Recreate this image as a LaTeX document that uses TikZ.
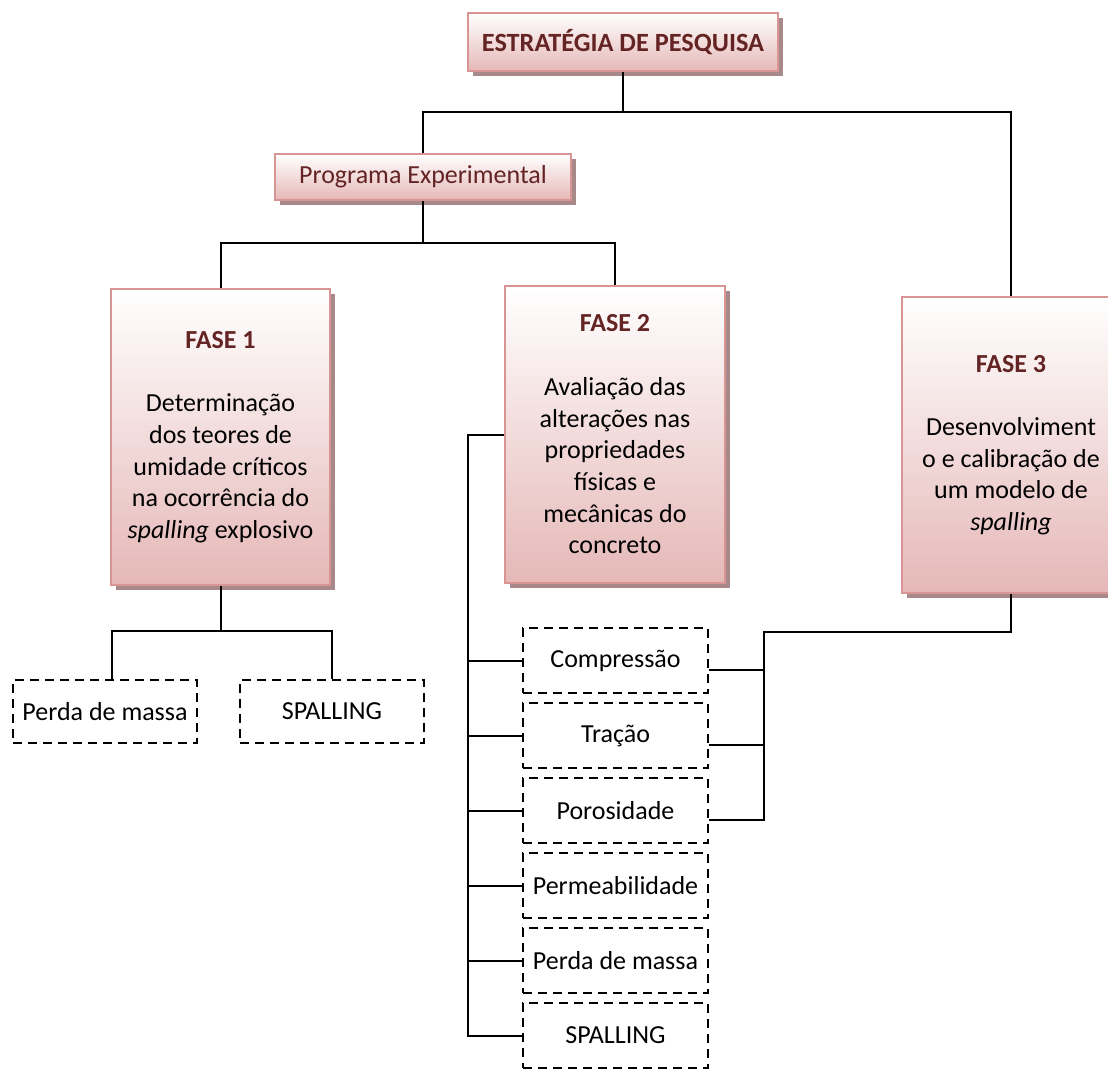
\documentclass[tikz,border=0pt]{standalone}
\usepackage{fontspec}
\setmainfont{Carlito}
\usetikzlibrary{shadows}
\definecolor{titlered}{HTML}{632423}
\definecolor{boxline}{HTML}{D99594}
\definecolor{boxpink}{HTML}{E5B8B7}
\definecolor{shadowcol}{HTML}{A8898A}
\begin{document}
\begin{tikzpicture}[x=1pt,y=-1pt,
  every node/.style={font=\fontsize{26}{31.7}\selectfont, inner sep=0pt},
  pinkbox/.style={draw=boxline, line width=2pt, top color=white, bottom color=boxpink,
    drop shadow={shadow xshift=5pt, shadow yshift=-5pt, fill=shadowcol, opacity=1},
    align=center},
  phasebox/.style={pinkbox, minimum width=219pt, minimum height=296pt},
  dashbox/.style={draw=black, line width=1.8pt, dash pattern=on 9pt off 6pt,
    minimum width=185pt, minimum height=65pt},
  link/.style={line width=2pt, draw=black}
]
\useasboundingbox (0,0) rectangle (1108,1068);
\clip (0,0) rectangle (1108,1068);

% header boxes
\node[pinkbox, minimum width=310pt, minimum height=58pt, text=titlered] (top) at (623,42)
  {\fontsize{26.3}{31.7}\selectfont\bfseries ESTRATÉGIA DE PESQUISA};
\node[pinkbox, minimum width=296pt, minimum height=46pt, text=titlered] (prog) at (423,177)
  {Programa Experimental};

% the three phases
\node[phasebox] (f1) at (220.5,437)
  {\textcolor{titlered}{\bfseries FASE 1}\\[31.7pt]
   Determinação\\ dos teores de\\ umidade críticos\\ na ocorrência do\\ \textit{spalling} explosivo};
\node[phasebox, minimum width=220pt, minimum height=297pt] (f2) at (615,434.5)
  {\textcolor{titlered}{\bfseries FASE 2}\\[31.7pt]
   Avaliação das\\ alterações nas\\ propriedades\\ físicas e\\ mecânicas do\\ concreto};
\node[phasebox, minimum width=218pt] (f3) at (1011,445)
  {\textcolor{titlered}{\bfseries FASE 3}\\[31.7pt]
   Desenvolviment\\ o e calibração de\\ um modelo de\\ \textit{spalling}};

% results of phase 1
\node[dashbox, minimum width=184pt, minimum height=63pt] (pm1) at (105,711.5) {Perda de massa};
\node[dashbox, minimum width=184pt, minimum height=63pt] (sp1) at (332,711.5) {SPALLING};

% tests of phase 2
\node[dashbox] (c2)  at (615.5,660.5) {Compressão};
\node[dashbox] (tr2) at (615.5,735.5) {Tração};
\node[dashbox] (po2) at (615.5,810.5) {Porosidade};
\node[dashbox] (pe2) at (615.5,885.5) {Permeabilidade};
\node[dashbox] (pm2) at (615.5,960.5) {Perda de massa};
\node[dashbox] (sp2) at (615.5,1035.5) {SPALLING};

% tree connectors
\coordinate (b1) at (623,112);
\draw[link] (top.south) -- (b1) -| (prog.north);
\draw[link] (b1) -| (f3.north);

\coordinate (b2) at (423,243);
\draw[link] (prog.south) -- (b2) -| (f1.north);
\draw[link] (b2) -| (f2.north);

\coordinate (b3) at (220.5,631);
\draw[link] (f1.south) -- (b3) -| ([xshift=7pt]pm1.north);
\draw[link] (b3) -| (sp1.north);

\coordinate (t2) at (468,434.5);
\draw[link] (f2.west) -- (t2) |- (sp2.west);
\foreach \n in {c2,tr2,po2,pe2,pm2}
  \draw[link] (t2 |- \n.west) -- (\n.west);

% phase 3 draws on three of the tests
\coordinate (r3) at (764,632);
\coordinate (ce) at ([yshift=-9pt]c2.east);
\coordinate (te) at ([yshift=-9pt]tr2.east);
\coordinate (pe) at ([yshift=-9pt]po2.east);
\draw[link] (f3.south) |- (r3) -- (r3 |- pe) -- (pe);
\draw[link] (ce) -- (r3 |- ce);
\draw[link] (te) -- (r3 |- te);
\end{tikzpicture}
\end{document}
